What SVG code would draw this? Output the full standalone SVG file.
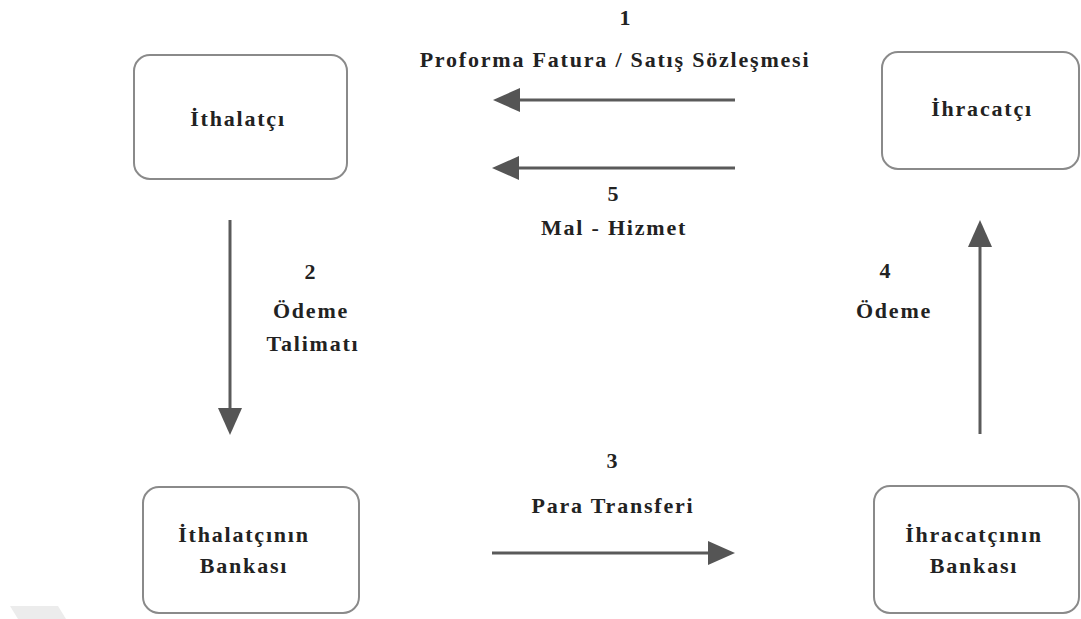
<svg xmlns="http://www.w3.org/2000/svg" width="1081" height="619" viewBox="0 0 1081 619">
<style>
.box{fill:#fff;stroke:#8a8a8a;stroke-width:2}
.t{font-family:"Liberation Serif","DejaVu Serif",serif;font-weight:bold;font-size:22px;fill:#222;text-anchor:middle;letter-spacing:1.8px}
.c{stroke:#5a5a5a;stroke-width:3;fill:none}
</style>
<rect width="1081" height="619" fill="#fff"/>
<polygon points="10,606 58,606 66,619 18,619" fill="#ececec"/>
<g id="ithalatci"><rect class="box" x="134" y="55" width="213" height="124" rx="16"/><text class="t" x="238" y="126">İthalatçı</text></g>
<g id="ihracatci"><rect class="box" x="882" y="52" width="197" height="117" rx="16"/><text class="t" x="982" y="116">İhracatçı</text></g>
<g id="ithalatcinin-bankasi"><rect class="box" x="143" y="487" width="216" height="126" rx="16"/><text class="t" x="244" y="542">İthalatçının</text><text class="t" x="244" y="573">Bankası</text></g>
<g id="ihracatcinin-bankasi"><rect class="box" x="874" y="486" width="205" height="127" rx="16"/><text class="t" x="974" y="542">İhracatçının</text><text class="t" x="974" y="573">Bankası</text></g>
<g id="connectors">
<path class="c" d="M735,100 H520"/><path d="M520,88 L493,100 L520,112 Z" fill="#555"/>
<path class="c" d="M735,168 H519"/><path d="M519,156 L492,168 L519,180 Z" fill="#555"/>
<path class="c" d="M230,220 V408"/><path d="M218,408 L230,435 L242,408 Z" fill="#555"/>
<path class="c" d="M492,553 H708"/><path d="M708,541 L735,553 L708,565 Z" fill="#555"/>
<path class="c" d="M980,434 V247"/><path d="M968,247 L980,220 L992,247 Z" fill="#555"/>
</g>
<g id="labels">
<text class="t" x="626" y="25">1</text>
<text class="t" x="615" y="67">Proforma Fatura / Satış Sözleşmesi</text>
<text class="t" x="614" y="201">5</text>
<text class="t" x="614" y="235">Mal - Hizmet</text>
<text class="t" x="311" y="279">2</text>
<text class="t" x="311" y="318">Ödeme</text>
<text class="t" x="313" y="351">Talimatı</text>
<text class="t" x="613" y="468">3</text>
<text class="t" x="613" y="513">Para Transferi</text>
<text class="t" x="886" y="278">4</text>
<text class="t" x="894" y="318">Ödeme</text>
</g>
</svg>
